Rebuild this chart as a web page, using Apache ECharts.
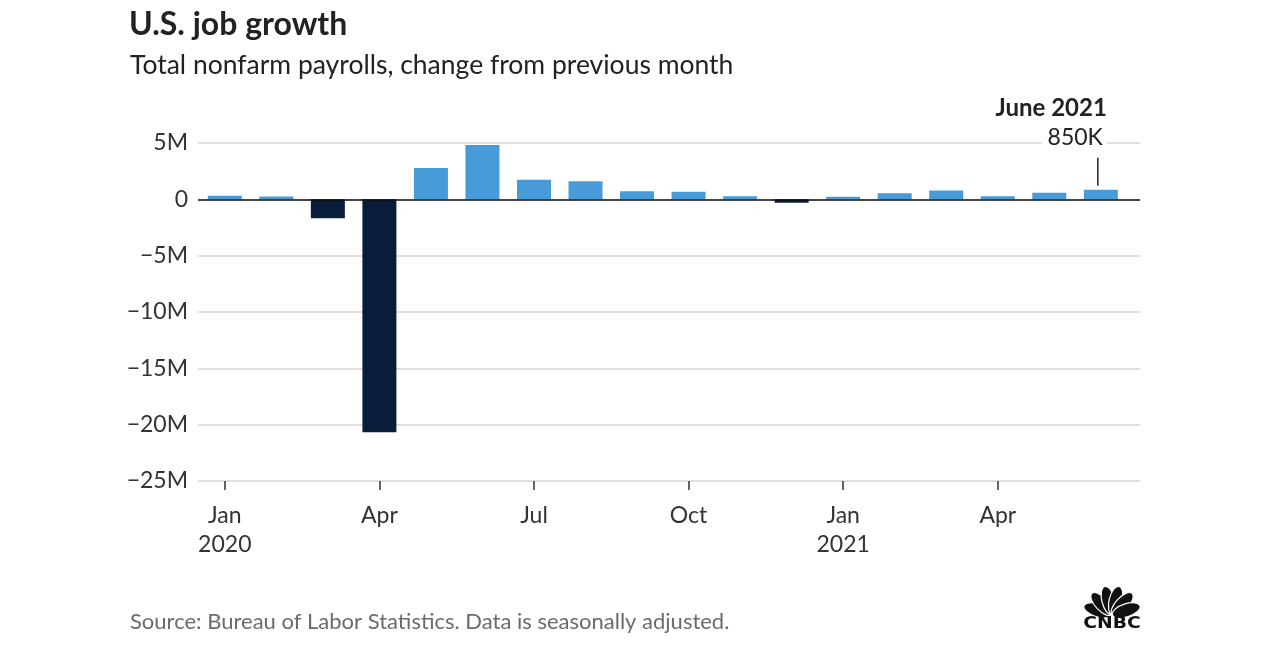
<!DOCTYPE html>
<html><head><meta charset="utf-8">
<script src="https://cdn.jsdelivr.net/npm/echarts@6/dist/echarts.min.js"></script>
<style>html,body{margin:0;background:#fff}#c{width:1280px;height:650px}</style>
</head><body><div id="c"></div>
<script>
// Months Jan 2020 .. Jun 2021
const months = ['Jan','Feb','Mar','Apr','May','Jun','Jul','Aug','Sep','Oct','Nov','Dec','Jan','Feb','Mar','Apr','May','Jun'];
const years = ['2020','2020','2020','2020','2020','2020','2020','2020','2020','2020','2020','2020','2021','2021','2021','2021','2021','2021'];
// Change in nonfarm payrolls, millions
const values = [0.31, 0.25, -1.68, -20.68, 2.79, 4.83, 1.73, 1.60, 0.72, 0.68, 0.27, -0.31, 0.23, 0.54, 0.79, 0.27, 0.58, 0.85];
const tickIdx = [0, 3, 6, 9, 12, 15];
const yMin = -25, yMax = 5, yStep = 5;
const annoTitle = 'June 2021';
const annoValue = '850K';

const FONT = 'Lato, "Noto Sans", sans-serif';
const chart = echarts.init(document.getElementById('c'), null, {renderer: 'canvas'});

const option = {
  animation: false,
  backgroundColor: '#fff',
  textStyle: {fontFamily: FONT},
  title: [
    {text: 'U.S. job growth', left: 124, top: 4, padding: 5,
     textStyle: {fontFamily: FONT, fontSize: 32, fontWeight: 'bold', color: '#222'}},
    {text: 'Total nonfarm payrolls, change from previous month', left: 125, top: 47, padding: 5,
     textStyle: {fontFamily: FONT, fontSize: 26.5, fontWeight: 'normal', color: '#222'}},
    {text: 'Source: Bureau of Labor Statistics. Data is seasonally adjusted.', left: 125, top: 606, padding: 5,
     textStyle: {fontFamily: FONT, fontSize: 22, fontWeight: 'normal', color: '#6b6b6b'}}
  ],
  grid: {left: 198, right: 140, top: 143, bottom: 169, containLabel: false},
  xAxis: {
    type: 'value', min: -0.52, max: 17.76,
    axisLine: {show: false, onZero: false},
    splitLine: {show: false},
    axisTick: {show: true, customValues: tickIdx, length: 9, lineStyle: {color: '#333', width: 1.5}},
    axisLabel: {
      customValues: tickIdx, margin: 20, fontSize: 23, lineHeight: 29, color: '#333', fontFamily: FONT,
      formatter: v => { const i = Math.round(v); return months[i] + (months[i] === 'Jan' ? '\n' + years[i] : ''); }
    }
  },
  yAxis: {
    type: 'value', min: yMin, max: yMax, interval: yStep,
    axisLine: {show: false}, axisTick: {show: false},
    splitLine: {lineStyle: {color: '#d4d4d4', width: 1.5}},
    axisLabel: {
      fontSize: 23, color: '#333', margin: 10, fontFamily: FONT,
      formatter: v => v === 0 ? '0' : (v < 0 ? '\u2212' : '') + Math.abs(v) + 'M'
    }
  },
  series: [{
    type: 'bar', barWidth: 34,
    data: values.map((v, i) => ({value: [i, v], itemStyle: {color: v < 0 ? '#081d3a' : '#469bd8'}})),
    markLine: {
      silent: true, symbol: 'none', label: {show: false},
      lineStyle: {color: '#111', width: 1.5, type: 'solid'},
      data: [{yAxis: 0}]
    }
  }]
};
chart.setOption(option);

const last = values.length - 1;
const p = chart.convertToPixel({gridIndex: 0}, [last, values[last]]);
const feathers = [-72, -43, -14, 14, 43, 72];
chart.setOption({
  graphic: [
    {type: 'line', shape: {x1: p[0] - 3, y1: p[1] - 4, x2: p[0] - 3, y2: p[1] - 32}, style: {stroke: '#222', lineWidth: 1.5}},
    {type: 'text', x: p[0] + 6, y: p[1] - 52, style: {text: annoValue, align: 'right', verticalAlign: 'middle',
      font: '23px ' + FONT, fill: '#222', backgroundColor: '#fff', padding: [0, 4, 0, 6]}},
    {type: 'text', x: p[0] + 6, y: p[1] - 81, style: {text: annoTitle, align: 'right', verticalAlign: 'middle',
      font: 'bold 24px ' + FONT, fill: '#222'}},
    // CNBC logo approximation
    {type: 'group', x: 1112, y: 615, children: feathers.map(a => ({
      type: 'ellipse', rotation: -a * Math.PI / 180,
      shape: {cx: 0, cy: -15, rx: 6.5, ry: 14.5},
      style: {fill: '#111', stroke: '#fff', lineWidth: 1.2}
    }))},
    {type: 'text', x: 1112, y: 624, scaleX: 1.25, style: {text: 'CNBC', align: 'center', verticalAlign: 'middle',
      font: '900 15px "DejaVu Sans", sans-serif', fill: '#111'}}
  ]
});
</script></body></html>
